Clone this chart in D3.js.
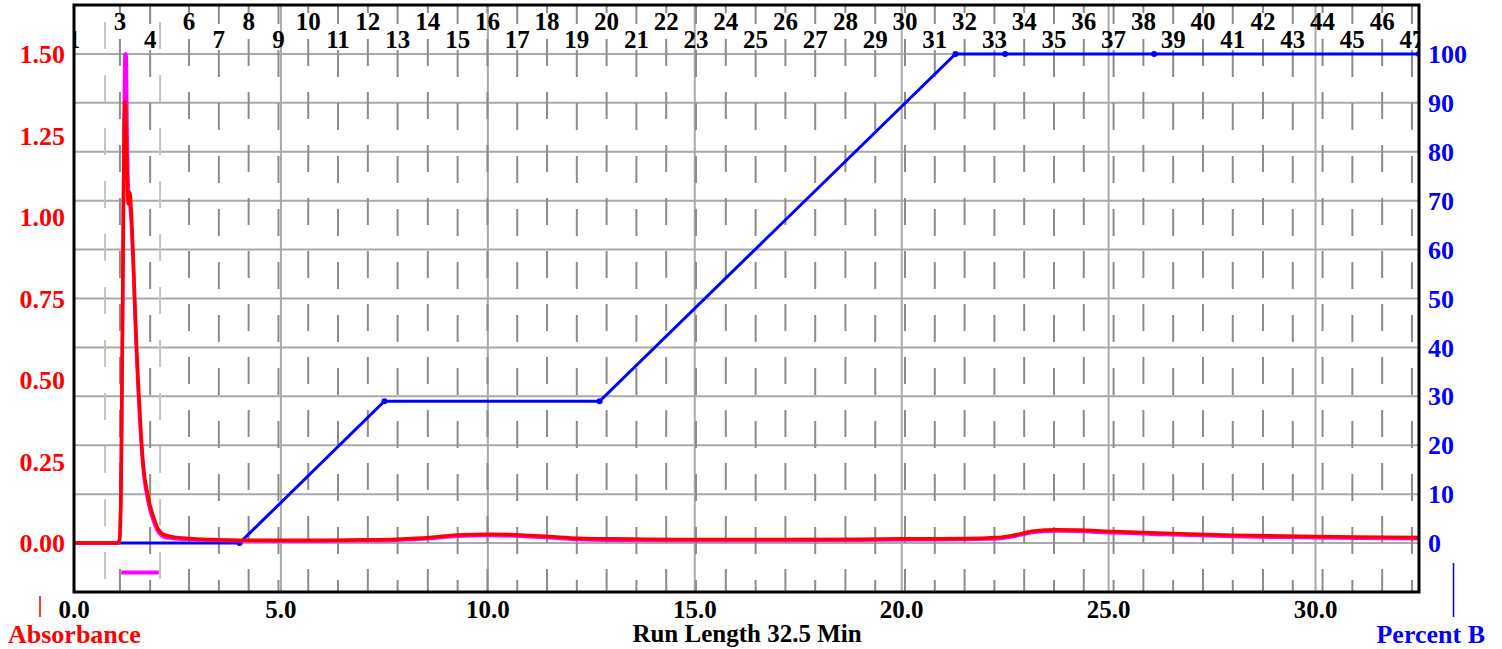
<!DOCTYPE html>
<html>
<head>
<meta charset="utf-8">
<script src="https://cdn.jsdelivr.net/npm/d3@7"></script>
<style>
  body { margin: 0; background: #fff; }
  svg { display: block; font-family: "Liberation Serif", "Times New Roman", serif; font-weight: bold; }
</style>
</head>
<body>
<svg id="chart" width="1502" height="649"></svg>
<script>
// axis ticks
const timeTicks = [0, 5, 10, 15, 20, 25, 30];
const absTicks = [0, 0.25, 0.5, 0.75, 1.0, 1.25, 1.5];
const pctTicks = [0, 10, 20, 30, 40, 50, 60, 70, 80, 90, 100];

// gradient (% B) breakpoints
const gradientTime = [0, 4.0, 7.5, 12.7, 21.3, 22.5, 26.1, 32.5];
const gradientPct = [0, 0, 29, 29, 100, 100, 100, 100];

// fraction tubes: number, start time (min); 2 and 5 carry no label
const fractionNums = [1, 2, 3, 4, 5, 6, 7, 8, 9, 10, 11, 12, 13, 14, 15, 16, 17, 18, 19, 20,
  21, 22, 23, 24, 25, 26, 27, 28, 29, 30, 31, 32, 33, 34, 35, 36, 37, 38, 39, 40,
  41, 42, 43, 44, 45, 46, 47];
const fractionTimes = [0, 0.75, 1.11, 1.84, 2.08, 2.78, 3.50, 4.22, 4.94, 5.66, 6.38, 7.10,
  7.82, 8.55, 9.27, 9.99, 10.71, 11.43, 12.15, 12.87, 13.59, 14.31, 15.03, 15.75, 16.47,
  17.19, 17.91, 18.64, 19.36, 20.08, 20.80, 21.52, 22.24, 22.96, 23.68, 24.40, 25.12,
  25.84, 26.56, 27.28, 28.00, 28.73, 29.45, 30.17, 30.89, 31.61, 32.33];
const hiddenFractions = [2, 5];

// collected peak bar (min)
const peakBar = [1.14, 2.05];
const peakBarLevel = -0.09;

// absorbance traces (AU)
const traceTime = [0, 1.06, 1.10, 1.14, 1.18, 1.21, 1.235, 1.26, 1.285, 1.31, 1.35, 1.39,
  1.43, 1.47, 1.51, 1.55, 1.60, 1.64, 1.70, 1.76, 1.83, 1.92, 2.00, 2.12, 2.25, 2.40, 2.80,
  3.30, 4.0, 5.0, 6.0, 7.0, 7.8, 8.6, 9.25, 10.0, 10.8, 11.5, 12.2, 13.0, 14.6, 17.1, 19.0,
  20.0, 21.5, 22.3, 22.7, 23.2, 23.75, 24.3, 24.8, 26.4, 28.0, 29.6, 31.0, 32.5];
const redAbs = [0, 0, 0.01, 0.20, 0.80, 1.25, 1.354, 1.25, 1.12, 1.04, 1.075, 1.00,
  0.88, 0.74, 0.61, 0.50, 0.38, 0.295, 0.21, 0.163, 0.12, 0.081, 0.052, 0.030, 0.023, 0.019, 0.014,
  0.011, 0.009, 0.009, 0.009, 0.010, 0.012, 0.017, 0.025, 0.027, 0.025, 0.020, 0.015, 0.013, 0.011, 0.011, 0.012,
  0.013, 0.014, 0.017, 0.024, 0.037, 0.041, 0.040, 0.037, 0.030, 0.024, 0.021, 0.019, 0.017];
const magentaAbs = [0, 0, 0.01, 0.20, 0.80, 1.30, 1.50, 1.50, 1.25, 1.10, 1.04, 0.97,
  0.86, 0.71, 0.58, 0.47, 0.355, 0.275, 0.195, 0.148, 0.105, 0.068, 0.042, 0.022, 0.016, 0.014, 0.011,
  0.009, 0.007, 0.006, 0.006, 0.007, 0.009, 0.014, 0.021, 0.023, 0.021, 0.016, 0.011, 0.009, 0.008, 0.008, 0.009,
  0.010, 0.011, 0.013, 0.020, 0.033, 0.037, 0.036, 0.033, 0.026, 0.020, 0.017, 0.015, 0.013];

class ChromatogramView {
  constructor(id) {
    this.svg = d3.select("#" + id);
    this.left = 74; this.right = 1419; this.top = 5; this.bottom = 592;
    this.x = d3.scaleLinear().domain([0, 32.5]).range([this.left, this.right]);
    this.yAbs = d3.scaleLinear().domain([-0.15, 1.65]).range([this.bottom, this.top]);
    this.yPct = d3.scaleLinear().domain([-10, 110]).range([this.bottom, this.top]);
    this.svg.append("defs").append("clipPath").attr("id", "plot-clip")
      .append("rect")
      .attr("x", this.left).attr("y", this.top)
      .attr("width", this.right - this.left).attr("height", this.bottom - this.top);
    this.plot = this.svg.append("g").attr("clip-path", "url(#plot-clip)");
  }

  renderGrid() {
    const self = this;
    self.plot.selectAll("line.hgrid").data(pctTicks).enter().append("line")
      .attr("class", "hgrid")
      .attr("x1", self.left).attr("x2", self.right)
      .attr("y1", function(d) { return self.yPct(d); })
      .attr("y2", function(d) { return self.yPct(d); })
      .style("stroke", "#a9a9a9").style("stroke-width", 2);
    self.plot.selectAll("line.vgrid").data(timeTicks.slice(1)).enter().append("line")
      .attr("class", "vgrid")
      .attr("y1", self.top).attr("y2", self.bottom)
      .attr("x1", function(d) { return self.x(d); })
      .attr("x2", function(d) { return self.x(d); })
      .style("stroke", "#a9a9a9").style("stroke-width", 2);
  }

  renderFractions() {
    const self = this;
    let row = 0;
    const fr = fractionNums.map(function(n, i) {
      const hidden = hiddenFractions.indexOf(n) >= 0;
      const f = {num: n, t: fractionTimes[i], hidden: hidden, upper: false};
      if (!hidden) { f.upper = row % 2 === 1; row++; }
      return f;
    });
    self.plot.selectAll("line.fraction").data(fr).enter().append("line")
      .attr("class", "fraction")
      .attr("x1", function(d) { return self.x(d.t); })
      .attr("x2", function(d) { return self.x(d.t); })
      .attr("y1", self.top).attr("y2", self.bottom)
      .style("stroke", function(d) { return d.hidden ? "#c4c4c4" : "#8c8c8c"; })
      .style("stroke-width", 2)
      .style("stroke-dasharray", "27 26")
      .style("stroke-dashoffset", function(d) { return d.hidden ? 36 : (d.upper ? 19 : 8); });
    self.plot.selectAll("text.fraction-label").data(fr.filter(function(d) { return !d.hidden; }))
      .enter().append("text")
      .attr("class", "fraction-label")
      .attr("x", function(d) { return self.x(d.t); })
      .attr("y", function(d) { return d.upper ? 30 : 48; })
      .attr("text-anchor", "middle")
      .style("font-size", "25px")
      .style("fill", "#000")
      .text(function(d) { return d.num; });
  }

  renderTraces() {
    const self = this;
    const gradient = d3.line()
      .x(function(d) { return self.x(d[0]); })
      .y(function(d) { return self.yPct(d[1]); });
    const gPts = gradientTime.map(function(t, i) { return [t, gradientPct[i]]; });
    self.plot.append("path").attr("d", gradient(gPts))
      .style("fill", "none").style("stroke", "#0000ff").style("stroke-width", 3);
    self.plot.selectAll("circle.gpoint").data(gPts.slice(1)).enter().append("circle")
      .attr("class", "gpoint")
      .attr("cx", function(d) { return self.x(d[0]); })
      .attr("cy", function(d) { return self.yPct(d[1]); })
      .attr("r", 3)
      .style("fill", "#0000ff");

    // collected peak bar
    self.plot.append("line")
      .attr("x1", self.x(peakBar[0])).attr("x2", self.x(peakBar[1]))
      .attr("y1", self.yAbs(peakBarLevel)).attr("y2", self.yAbs(peakBarLevel))
      .style("stroke", "#ff00ff").style("stroke-width", 4);

    const abs = d3.line()
      .curve(d3.curveMonotoneX)
      .x(function(d) { return self.x(d[0]); })
      .y(function(d) { return self.yAbs(d[1]); });
    self.plot.append("path")
      .attr("d", abs(traceTime.map(function(t, i) { return [t, magentaAbs[i]]; })))
      .style("fill", "none").style("stroke", "#ff00ff").style("stroke-width", 3.5);
    self.plot.append("path")
      .attr("d", abs(traceTime.map(function(t, i) { return [t, redAbs[i]]; })))
      .style("fill", "none").style("stroke", "#ff0000").style("stroke-width", 3.5);
  }

  renderAxis() {
    const self = this;
    self.svg.append("rect")
      .attr("x", self.left).attr("y", self.top)
      .attr("width", self.right - self.left).attr("height", self.bottom - self.top)
      .style("fill", "none").style("stroke", "#000").style("stroke-width", 3);

    self.svg.selectAll("text.abs-tick").data(absTicks).enter().append("text")
      .attr("class", "abs-tick")
      .attr("x", 65)
      .attr("y", function(d) { return self.yAbs(d); })
      .attr("dy", "0.35em")
      .attr("text-anchor", "end")
      .style("font-size", "26px").style("fill", "#ff0000")
      .text(d3.format(".2f"));

    self.svg.selectAll("text.pct-tick").data(pctTicks).enter().append("text")
      .attr("class", "pct-tick")
      .attr("x", 1428)
      .attr("y", function(d) { return self.yPct(d); })
      .attr("dy", "0.35em")
      .style("font-size", "26px").style("fill", "#0000ff")
      .text(function(d) { return d; });

    self.svg.selectAll("text.time-tick").data(timeTicks).enter().append("text")
      .attr("class", "time-tick")
      .attr("x", function(d) { return self.x(d); })
      .attr("y", 618)
      .attr("text-anchor", "middle")
      .style("font-size", "25px").style("fill", "#000")
      .text(d3.format(".1f"));

    // axis titles
    self.svg.append("line").attr("x1", 40).attr("x2", 40).attr("y1", 596).attr("y2", 617)
      .style("stroke", "#ff0000").style("stroke-width", 1.5);
    self.svg.append("text").attr("x", 8).attr("y", 643)
      .style("font-size", "26px").style("fill", "#ff0000").text("Absorbance");
    self.svg.append("line").attr("x1", 1453.5).attr("x2", 1453.5).attr("y1", 563).attr("y2", 617)
      .style("stroke", "#0000ff").style("stroke-width", 1.5);
    self.svg.append("text").attr("x", 1485).attr("y", 643).attr("text-anchor", "end")
      .style("font-size", "26px").style("fill", "#0000ff").text("Percent B");
    self.svg.append("text").attr("x", 747).attr("y", 642).attr("text-anchor", "middle")
      .style("font-size", "25px").style("fill", "#000").text("Run Length 32.5 Min");
  }

  render() {
    this.renderGrid();
    this.renderFractions();
    this.renderTraces();
    this.renderAxis();
  }
}

const view = new ChromatogramView("chart");
view.render();
</script>
</body>
</html>
